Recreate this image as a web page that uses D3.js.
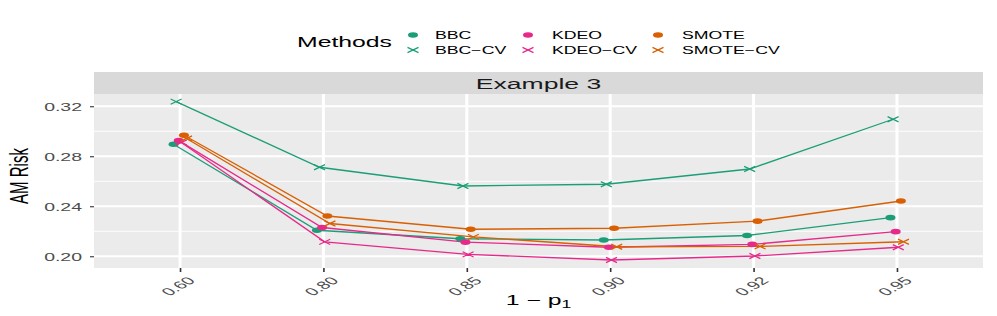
<!DOCTYPE html>
<html>
<head>
<meta charset="utf-8">
<script src="https://cdn.jsdelivr.net/npm/d3@7"></script>
<style>
  body { margin: 0; background: #fff; }
  text { font-family: "Liberation Sans", Arial, sans-serif; }
</style>
</head>
<body>
<script>
// values
var categories = ["0.60", "0.80", "0.85", "0.90", "0.92", "0.95"];
var methods = ["BBC", "BBC\u2212CV", "KDEO", "KDEO\u2212CV", "SMOTE", "SMOTE\u2212CV"];
var bbc     = [0.2896, 0.2208, 0.2140, 0.2130, 0.2166, 0.2309];
var bbcCV   = [0.3237, 0.2712, 0.2562, 0.2576, 0.2698, 0.3096];
var kdeo    = [0.2925, 0.2230, 0.2113, 0.2072, 0.2095, 0.2197];
var kdeoCV  = [0.2910, 0.2115, 0.2015, 0.1970, 0.2002, 0.2072];
var smote   = [0.2968, 0.2322, 0.2216, 0.2224, 0.2281, 0.2442];
var smoteCV = [0.2942, 0.2262, 0.2155, 0.2076, 0.2079, 0.2116];
var yTicks = [0.20, 0.24, 0.28, 0.32];
var yMinor = [0.22, 0.26, 0.30];

var seriesVals = [bbc, bbcCV, kdeo, kdeoCV, smote, smoteCV];
var colors = ["#1B9E77", "#1B9E77", "#E7298A", "#E7298A", "#D95F02", "#D95F02"];
var isCV = [false, true, false, true, false, true];

var width = 997, height = 316;
var sx = 1.77; // the picture is stretched sideways
var svg = d3.select("body").append("svg").attr("width", width).attr("height", height);

var panel = {left: 94, right: 983, top: 94, bottom: 268};

var x = d3.scalePoint().domain(categories).range([panel.left, panel.right]).padding(0.6);
var y = d3.scaleLinear().domain([0.1906, 0.3298]).range([panel.bottom, panel.top]);
var dodge = 2.6;

function stretchText(sel, tx, ty, extra) {
  return sel.attr("transform", "translate(" + tx + "," + ty + ") scale(" + sx + ",1)" + (extra || ""));
}

// strip
svg.append("rect").attr("x", panel.left).attr("y", 72).attr("width", panel.right - panel.left)
  .attr("height", 22).attr("fill", "#D9D9D9");
stretchText(svg.append("text").text("Example 3").attr("text-anchor", "middle")
  .attr("font-size", 15).attr("fill", "#1A1A1A"), (panel.left + panel.right) / 2, 88.5);

// panel
svg.append("rect").attr("x", panel.left).attr("y", panel.top).attr("width", panel.right - panel.left)
  .attr("height", panel.bottom - panel.top).attr("fill", "#EBEBEB");

var grid = svg.append("g");
grid.selectAll("line.minor").data(yMinor).enter().append("line")
  .attr("x1", panel.left).attr("x2", panel.right)
  .attr("y1", d => y(d)).attr("y2", d => y(d))
  .attr("stroke", "#fff").attr("stroke-width", 0.9);
grid.selectAll("line.major").data(yTicks).enter().append("line")
  .attr("x1", panel.left).attr("x2", panel.right)
  .attr("y1", d => y(d)).attr("y2", d => y(d))
  .attr("stroke", "#fff").attr("stroke-width", 1.8);
grid.selectAll("line.vert").data(categories).enter().append("line")
  .attr("x1", d => x(d)).attr("x2", d => x(d))
  .attr("y1", panel.top).attr("y2", panel.bottom)
  .attr("stroke", "#fff").attr("stroke-width", 3);

// lines, then points
var line = d3.line().x(d => d[0]).y(d => y(d[1]));
seriesVals.forEach(function (vals, i) {
  var off = (i - 2.5) * dodge;
  var pts = vals.map((v, j) => [x(categories[j]) + off, v]);
  svg.append("path").attr("d", line(pts)).attr("fill", "none")
    .attr("stroke", colors[i]).attr("stroke-width", 1.3);
});

function drawPoint(g, cx, cy, i) {
  if (isCV[i]) {
    g.append("path")
      .attr("d", "M" + (cx - 5.5) + "," + (cy - 2.6) + "L" + (cx + 5.5) + "," + (cy + 2.6) +
                 "M" + (cx - 5.5) + "," + (cy + 2.6) + "L" + (cx + 5.5) + "," + (cy - 2.6))
      .attr("stroke", colors[i]).attr("stroke-width", 1.2).attr("fill", "none");
  } else {
    g.append("ellipse").attr("cx", cx).attr("cy", cy).attr("rx", 5).attr("ry", 2.8)
      .attr("fill", colors[i]);
  }
}
var pointsG = svg.append("g");
seriesVals.forEach(function (vals, i) {
  var off = (i - 2.5) * dodge;
  vals.forEach(function (v, j) { drawPoint(pointsG, x(categories[j]) + off, y(v), i); });
});

// y axis
var yAxisG = svg.append("g").attr("transform", "translate(" + panel.left + ",0)")
  .call(d3.axisLeft(y).tickValues(yTicks).tickFormat(d3.format(".2f")).tickSize(4).tickSizeOuter(0));
yAxisG.select(".domain").remove();
yAxisG.selectAll(".tick line").attr("stroke", "#333").attr("stroke-width", 1.1);
yAxisG.selectAll(".tick text").attr("x", 0).attr("dy", "0.36em")
  .attr("transform", "translate(-12,0) scale(" + sx + ",1)")
  .attr("font-size", 11).attr("fill", "#4D4D4D").attr("font-family", "Liberation Sans, Arial, sans-serif");

// x axis
var xAxisG = svg.append("g").attr("transform", "translate(0," + panel.bottom + ")")
  .call(d3.axisBottom(x).tickSize(4).tickSizeOuter(0));
xAxisG.select(".domain").remove();
xAxisG.selectAll(".tick line").attr("stroke", "#333").attr("stroke-width", 1.6);
xAxisG.selectAll(".tick text").attr("x", 0).attr("y", 0).attr("dy", "0.7em")
  .attr("text-anchor", "end")
  .attr("transform", "translate(6,8) scale(" + sx + ",1) rotate(-45)")
  .attr("font-size", 11).attr("fill", "#4D4D4D").attr("font-family", "Liberation Sans, Arial, sans-serif");

// axis titles
var xt = svg.append("text").attr("text-anchor", "middle").attr("font-size", 14).attr("fill", "#000");
stretchText(xt, (panel.left + panel.right) / 2, 305);
xt.append("tspan").text("1 \u2212 p");
xt.append("tspan").text("1").attr("font-size", 10).attr("dy", 3);

var yt = svg.append("text").text("AM Risk").attr("text-anchor", "middle")
  .attr("font-size", 15).attr("fill", "#000");
stretchText(yt, 28, 176, " rotate(-90)");

// legend
stretchText(svg.append("text").text("Methods").attr("font-size", 14).attr("fill", "#000"), 297, 47);
var keyX = [413, 413, 528, 528, 658, 658];
var labX = [435, 435, 552, 552, 682, 682];
var rowY = [35, 50, 35, 50, 35, 50];
var legG = svg.append("g");
methods.forEach(function (m, i) {
  drawPoint(legG, keyX[i], rowY[i], i);
  stretchText(legG.append("text").text(m).attr("font-size", 10).attr("fill", "#000")
    .attr("dy", "0.36em"), labX[i], rowY[i]);
});
</script>
</body>
</html>
